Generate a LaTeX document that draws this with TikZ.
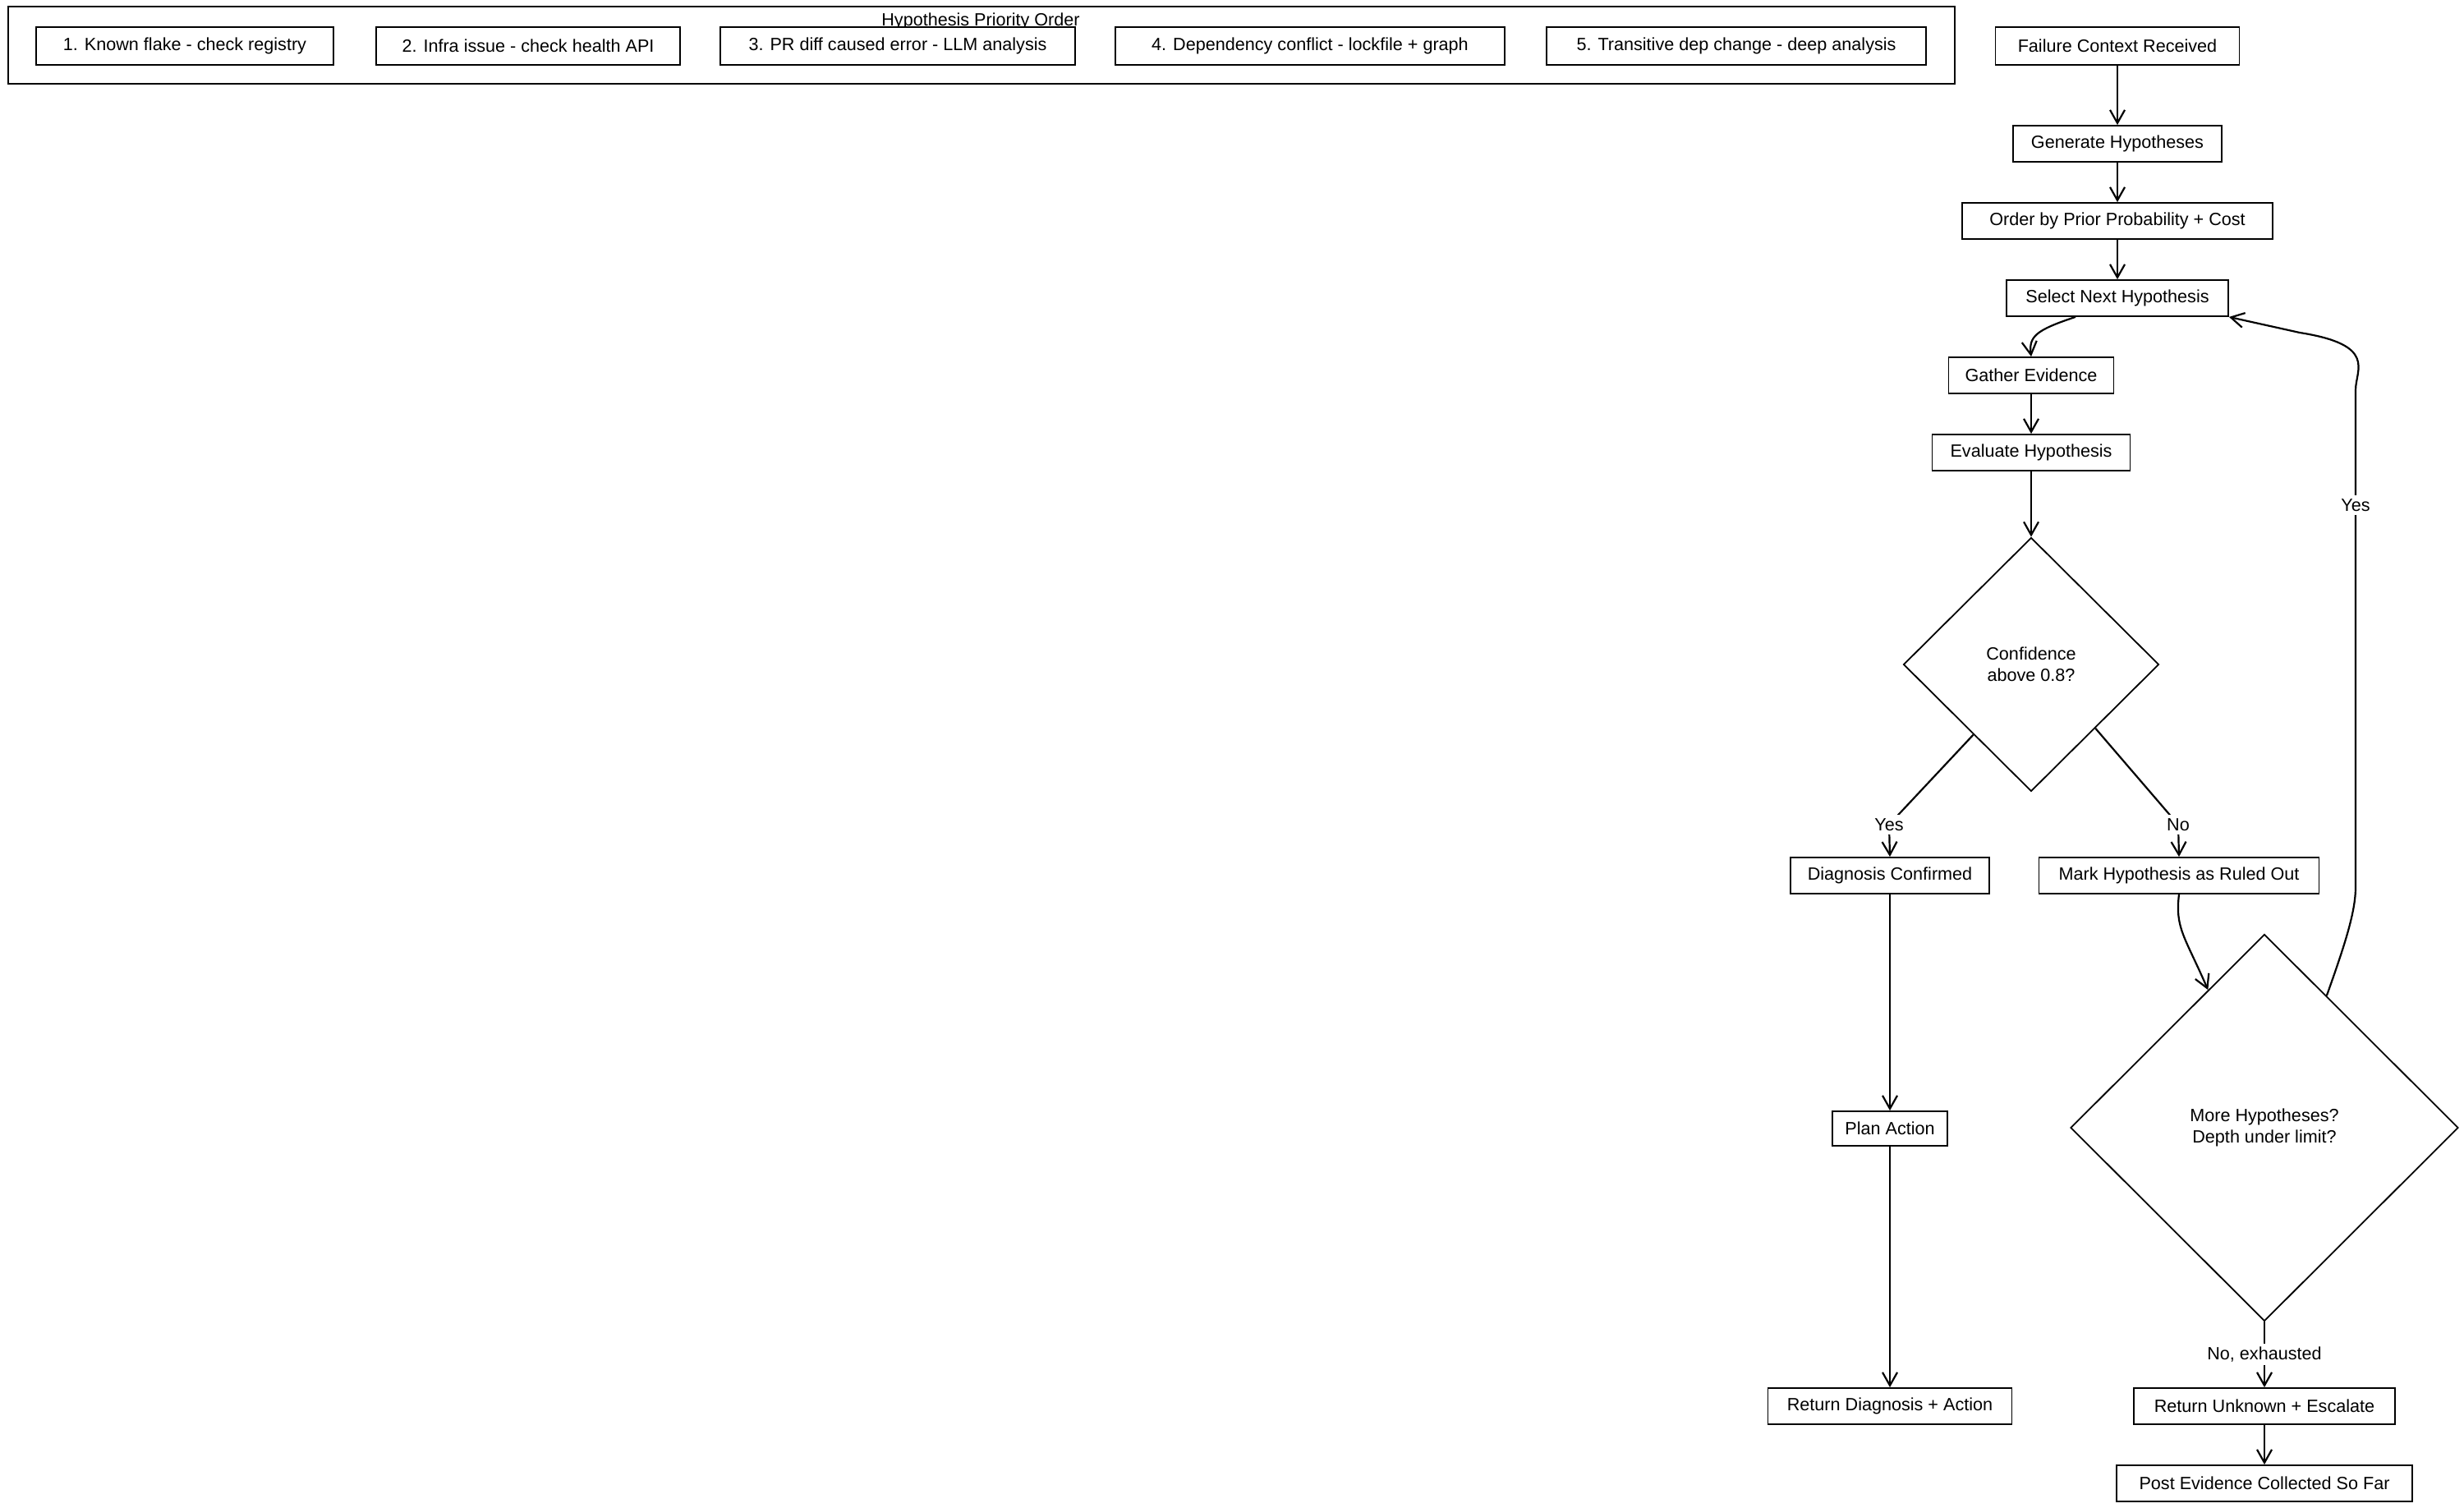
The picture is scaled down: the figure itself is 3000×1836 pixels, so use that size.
\documentclass[tikz,border=0pt]{standalone}
\usepackage{fontspec}
\setmainfont{Liberation Sans}
\usetikzlibrary{shapes.geometric,arrows.meta,calc}
\begin{document}
\begin{tikzpicture}[x=0.5pt,y=-0.5pt,
  txt/.style={font=\fontsize{10.8}{13}\selectfont},
  box/.style={txt, draw=black, line width=0.9pt, fill=white, minimum height=22pt, inner sep=2pt},
  dia/.style={txt, diamond, draw=black, line width=0.9pt, fill=white, inner sep=0pt, align=center},
  arr/.style={draw=black, line width=1.1pt, -{Straight Barb[length=8pt,width=9pt,line width=1.1pt]}},
  lbl/.style={txt, fill=white, inner sep=2pt}]
\fill[white] (0,0) rectangle (3000,1836);
\useasboundingbox (0,0) rectangle (3000,1836);

% group container
\node[draw=black, line width=1pt, minimum width=1185pt, minimum height=47pt, inner sep=0pt] (grp) at (1195,55) {};
\node[txt, inner sep=1pt] (title) at (1194,26) {Hypothesis Priority Order};
\node[box, minimum width=181pt, minimum height=23pt] (p1) at (225,56) {1. Known flake - check registry};
\node[box, minimum width=185pt, minimum height=23pt] (p2) at (643,56) {2. Infra issue - check health API};
\node[box, minimum width=216pt, minimum height=23pt] (p3) at (1093,56) {3. PR diff caused error - LLM analysis};
\node[box, minimum width=237pt, minimum height=23pt] (p4) at (1595,56) {4. Dependency conflict - lockfile + graph};
\node[box, minimum width=231pt, minimum height=23pt] (p5) at (2114,56) {5. Transitive dep change - deep analysis};

% main flow
\node[box, minimum width=148.5pt, minimum height=23pt] (fail) at (2578,56) {Failure Context Received};
\node[box, minimum width=127pt] (gen) at (2578,175) {Generate Hypotheses};
\node[box, minimum width=189pt] (order) at (2578,269) {Order by Prior Probability + Cost};
\node[box, minimum width=135pt] (sel) at (2578,363) {Select Next Hypothesis};
\node[box, minimum width=100.5pt] (gath) at (2473,457) {Gather Evidence};
\node[box, minimum width=120.5pt] (eval) at (2473,551) {Evaluate Hypothesis};
\node[dia, minimum width=155.5pt, minimum height=154.5pt] (d1) at (2473,809) {Confidence\\above 0.8?};
\node[box, minimum width=121pt] (diag) at (2301,1066) {Diagnosis Confirmed};
\node[box, minimum width=170.5pt] (mark) at (2653,1066) {Mark Hypothesis as Ruled Out};
\node[dia, minimum width=236pt, minimum height=235.5pt] (d2) at (2757,1373) {More Hypotheses?\\Depth under limit?};
\node[box, minimum width=70pt, minimum height=21pt] (plan) at (2301,1374) {Plan Action};
\node[box, minimum width=148.5pt] (retd) at (2301,1712) {Return Diagnosis + Action};
\node[box, minimum width=159pt] (retu) at (2757,1712) {Return Unknown + Escalate};
\node[box, minimum width=180pt] (post) at (2757,1806) {Post Evidence Collected So Far};

% connectors
\draw[arr] (fail) -- (gen);
\draw[arr] (gen) -- (order);
\draw[arr] (order) -- (sel);
\draw[arr] ($(sel.south)+(-51,0)$) .. controls (2478,402) and (2470,410) .. (gath.north);
\draw[arr] (gath) -- (eval);
\draw[arr] (eval) -- (d1);
\draw[arr] ($(d1.west)!0.55!(d1.south)$) -- (2300,1004) node[lbl] {Yes} -- (diag.north);
\draw[arr] ($(d1.east)!0.5!(d1.south)$) -- (2652,1004) node[lbl] {No} -- (mark.north);
\draw[arr] (diag) -- (plan);
\draw[arr] (plan) -- (retd);
\draw[arr] (mark.south) .. controls (2648,1130) and (2660,1140) .. ($(d2.north)!0.29!(d2.west)$);
\draw[arr] ($(d2.north)!0.32!(d2.east)$) .. controls (2855,1150) and (2868,1110) .. (2868,1080)
  -- (2868,615) node[lbl] {Yes} -- (2868,475) .. controls (2868,450) and (2895,420) .. (2800,405) -- (sel.south east);
\draw[arr] (d2.south) -- node[lbl] {No, exhausted} (retu.north);
\draw[arr] (retu) -- (post);
\end{tikzpicture}
\end{document}
